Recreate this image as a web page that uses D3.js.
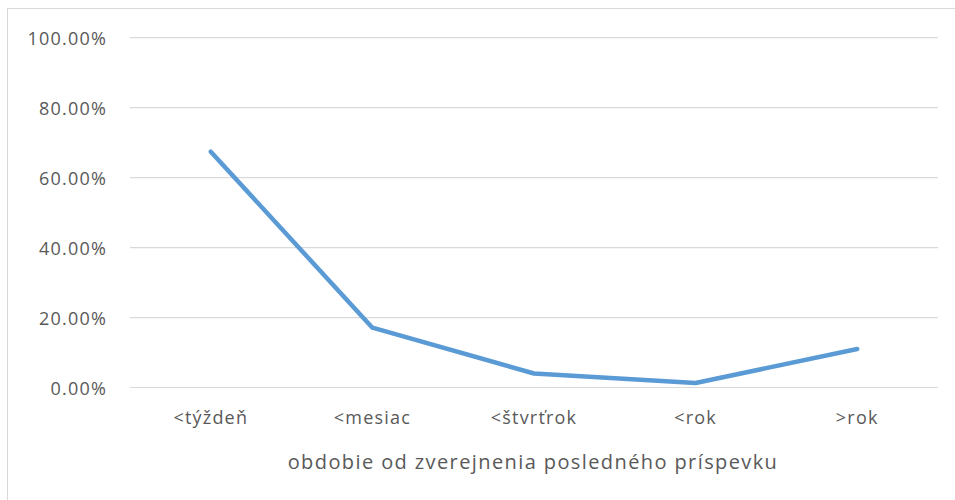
<!DOCTYPE html>
<html>
<head>
<meta charset="utf-8">
<script src="https://cdn.jsdelivr.net/npm/d3@7"></script>
<style>
  body { margin: 0; background: #fff; }
  text { font-family: "Open Sans", "Noto Sans", sans-serif; fill: #595959; }
</style>
</head>
<body>
<div id="chart"></div>
<script>
var categories = ["<týždeň", "<mesiac", "<štvrťrok", "<rok", ">rok"];
var values = [0.674, 0.171, 0.040, 0.013, 0.110];
var yTicks = [0, 0.2, 0.4, 0.6, 0.8, 1.0];
var xTitle = "obdobie od zverejnenia posledného príspevku";

var width = 955, height = 500;
var plotLeft = 130, plotRight = 938, plotTop = 37.7, plotBottom = 387.5;

var svg = d3.select("#chart").append("svg")
    .attr("width", width)
    .attr("height", height);

// chart border (runs off the right/bottom edge)
svg.append("rect")
    .attr("x", 7.5).attr("y", 8.5)
    .attr("width", 960).attr("height", 500)
    .attr("fill", "none")
    .attr("stroke", "#d9d9d9");

var x = d3.scaleBand()
    .domain(categories)
    .range([plotLeft, plotRight]);

var y = d3.scaleLinear()
    .domain([0, 1])
    .range([plotBottom, plotTop]);

// gridlines
svg.append("g")
    .selectAll("line")
    .data(yTicks)
    .enter()
    .append("line")
    .attr("x1", plotLeft).attr("x2", plotRight)
    .attr("y1", d => y(d)).attr("y2", d => y(d))
    .attr("stroke", "#d9d9d9")
    .attr("stroke-width", 1.2);

// y labels
svg.append("g")
    .selectAll("text")
    .data(yTicks)
    .enter()
    .append("text")
    .attr("x", 107)
    .attr("y", d => y(d))
    .attr("text-anchor", "end")
    .attr("dominant-baseline", "central")
    .style("font-size", "18px")
    .style("letter-spacing", "1.2px")
    .text(d => d3.format(".2%")(d));

// x labels
svg.append("g")
    .selectAll("text")
    .data(categories)
    .enter()
    .append("text")
    .attr("x", d => x(d) + x.bandwidth() / 2)
    .attr("y", 417)
    .attr("text-anchor", "middle")
    .attr("dominant-baseline", "central")
    .style("font-size", "18px")
    .style("letter-spacing", "1.2px")
    .text(d => d);

// axis title
svg.append("text")
    .attr("x", 533)
    .attr("y", 461)
    .attr("text-anchor", "middle")
    .attr("dominant-baseline", "central")
    .style("font-size", "20px")
    .style("letter-spacing", "1.4px")
    .text(xTitle);

// line
var line = d3.line()
    .x((d, i) => x(categories[i]) + x.bandwidth() / 2)
    .y(d => y(d));

svg.append("path")
    .datum(values)
    .attr("d", line)
    .attr("fill", "none")
    .attr("stroke", "#5b9bd5")
    .attr("stroke-width", 4.5)
    .attr("stroke-linecap", "round")
    .attr("stroke-linejoin", "round");
</script>
</body>
</html>
